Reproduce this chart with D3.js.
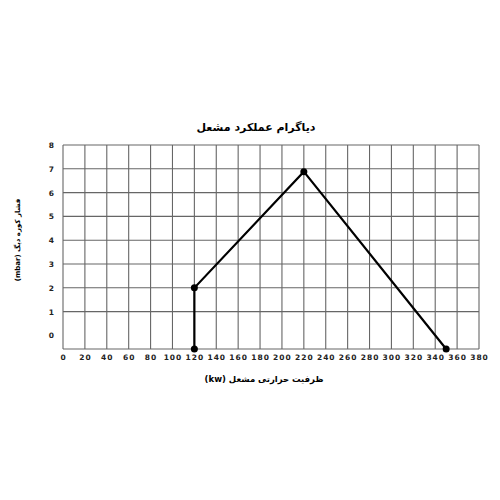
<!DOCTYPE html>
<html>
<head>
<meta charset="utf-8">
<script src="https://cdn.jsdelivr.net/npm/d3@7"></script>
<style>
  body { margin: 0; background: #fff; }
  text { font-family: "DejaVu Sans", sans-serif; }
</style>
</head>
<body>
<svg id="chart"></svg>
<script>
const title = "دیاگرام عملکرد مشعل";
const xLabel = "ظرفیت حرارتی مشعل (kw)";
const yLabel = "فشار کوره دیگ (mbar)";

const xTicks = [0, 20, 40, 60, 80, 100, 120, 140, 160, 180, 200, 220, 240, 260, 280, 300, 320, 340, 360, 380];
const yTicks = [0, 1, 2, 3, 4, 5, 6, 7, 8];
const yGrid = [1, 2, 3, 4, 5, 6, 7, 8];

// burner working curve (kw, mbar); bottom points sit on the frame
const kw = [120, 120, 220, 350];
const mbar = [-0.57, 2, 6.88, -0.57];

const svg = d3.select("#chart").attr("width", 500).attr("height", 500);

const x = d3.scaleLinear().domain([0, 380]).range([63, 479]);
const y = d3.scaleLinear().domain([-0.57, 8]).range([349, 145]);

const g = svg.append("g");

// grid
g.selectAll(".vgrid")
  .data(xTicks)
  .join("line")
  .attr("x1", d => x(d)).attr("x2", d => x(d))
  .attr("y1", y(8)).attr("y2", y(-0.57))
  .attr("stroke", "#666").attr("stroke-width", 1.1);

g.selectAll(".hgrid")
  .data(yGrid)
  .join("line")
  .attr("x1", x(0)).attr("x2", x(380))
  .attr("y1", d => y(d)).attr("y2", d => y(d))
  .attr("stroke", "#666").attr("stroke-width", 1.1);

g.append("line")
  .attr("x1", x(0)).attr("x2", x(380))
  .attr("y1", y(-0.57)).attr("y2", y(-0.57))
  .attr("stroke", "#666").attr("stroke-width", 1.1);

// axes (labels only)
const xAxis = d3.axisBottom(x).tickValues(xTicks).tickSize(0).tickPadding(6);
g.append("g")
  .attr("transform", `translate(0, ${y(-0.57)})`)
  .call(xAxis)
  .call(s => s.select(".domain").remove())
  .selectAll("text")
  .attr("font-size", 7.5).attr("font-weight", "bold").attr("fill", "#222")
  .attr("letter-spacing", 1)
  .attr("font-family", "DejaVu Sans");

const yAxis = d3.axisLeft(y).tickValues(yTicks).tickSize(0).tickPadding(9);
g.append("g")
  .attr("transform", `translate(${x(0)}, 0)`)
  .call(yAxis)
  .call(s => s.select(".domain").remove())
  .selectAll("text")
  .attr("font-size", 7.5).attr("font-weight", "bold").attr("fill", "#222")
  .attr("font-family", "DejaVu Sans");

// data line
const pts = kw.map((k, i) => [k, mbar[i]]);
const line = d3.line().x(d => x(d[0])).y(d => y(d[1]));

g.append("path")
  .datum(pts)
  .attr("fill", "none")
  .attr("stroke", "#000")
  .attr("stroke-width", 2.2)
  .attr("d", line);

g.selectAll(".pt")
  .data(pts)
  .join("circle")
  .attr("cx", d => x(d[0]))
  .attr("cy", d => y(d[1]))
  .attr("r", 3.5)
  .attr("fill", "#000");

// titles
svg.append("text")
  .attr("x", 256).attr("y", 131)
  .attr("text-anchor", "middle")
  .attr("font-size", 11).attr("font-weight", "bold")
  .attr("direction", "rtl")
  .attr("font-family", "DejaVu Sans")
  .text(title);

svg.append("text")
  .attr("x", 264).attr("y", 382)
  .attr("text-anchor", "middle")
  .attr("font-size", 8.5).attr("font-weight", "bold")
  .attr("direction", "rtl")
  .attr("font-family", "DejaVu Sans")
  .text(xLabel);

svg.append("text")
  .attr("transform", "translate(20, 240) rotate(-90)")
  .attr("text-anchor", "middle")
  .attr("font-size", 7).attr("font-weight", "bold")
  .attr("direction", "rtl")
  .attr("font-family", "DejaVu Sans")
  .text(yLabel);
</script>
</body>
</html>
